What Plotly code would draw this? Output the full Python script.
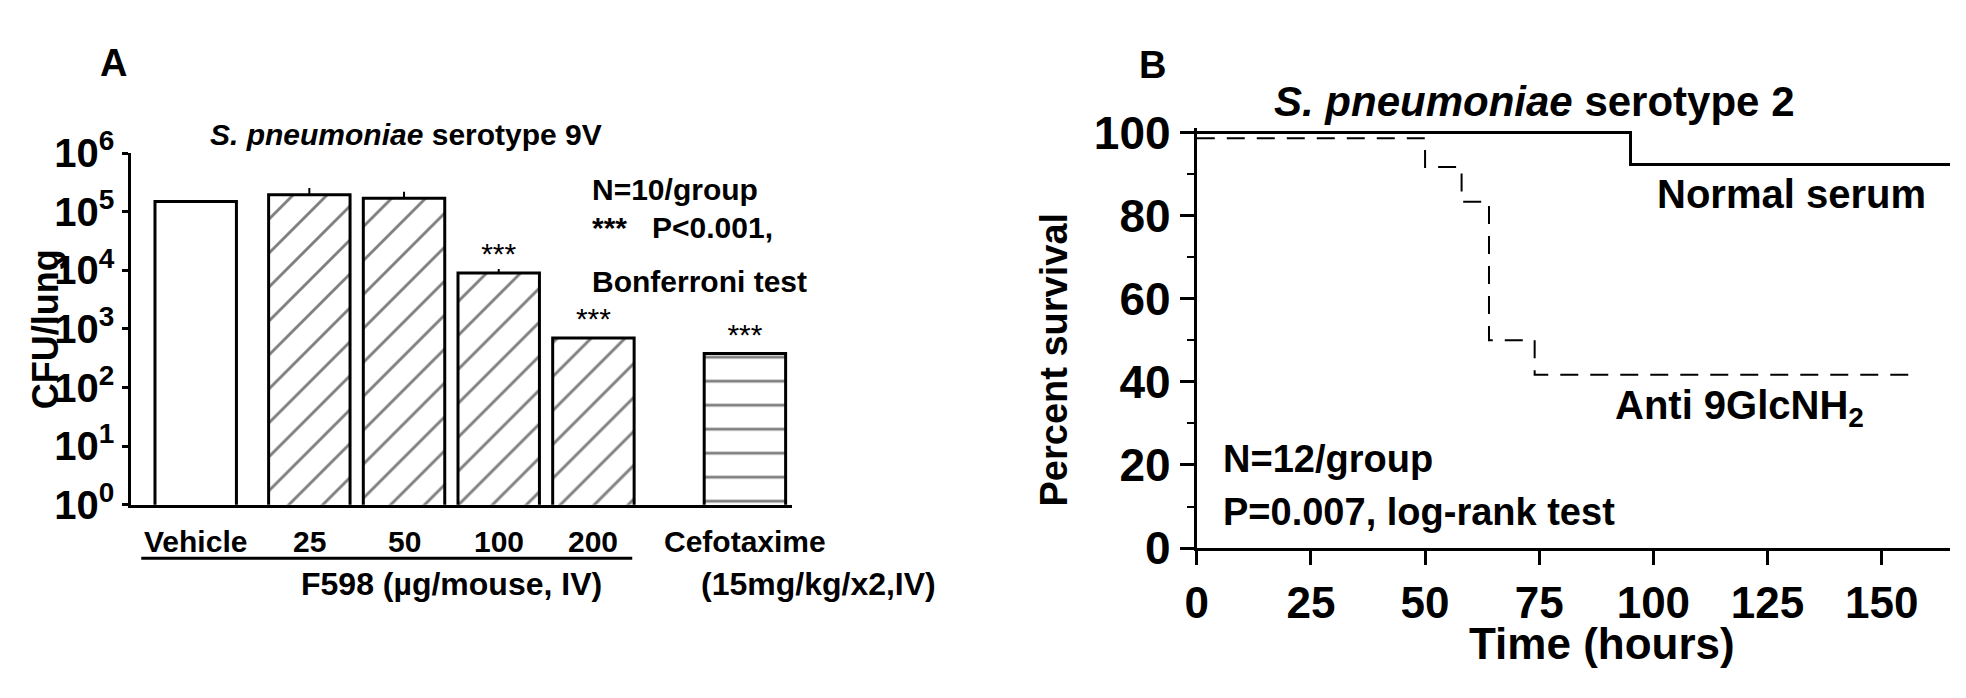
import plotly.graph_objects as go

# ---------------- data ----------------
bar_pos = [0, 1.2, 2.2, 3.2, 4.2, 5.8]
bar_labels = ["Vehicle", "25", "50", "100", "200", "Cefotaxime"]
cfu = [1.5e5, 1.95e5, 1.7e5, 9.0e3, 7.0e2, 3.8e2]
cfu_err = [0, 0.6e5, 0.5e5, 1.5e3, 0, 0]
stars = ["", "", "", "***", "***", "***"]
patterns = ["", "/", "/", "/", "/", "-"]

normal_t = [0, 95, 95, 165]
normal_s = [100, 100, 92.3, 92.3]
anti_t = [0, 50, 50, 58, 58, 64, 64, 74, 74, 158]
anti_s = [98.6, 98.6, 91.7, 91.7, 83.3, 83.3, 50, 50, 41.7, 41.7]

W, H = 1966, 698
NARROW = "Liberation Sans Narrow, Arial Narrow, Liberation Sans"
ARIAL = "Liberation Sans, Arial"


def px(x):
    return x / W


def py(y):
    return 1 - y / H


fig = go.Figure()

# ---------------- panel A ----------------
fig.add_trace(go.Bar(
    x=bar_pos, y=cfu, width=0.86,
    marker=dict(color="white", line=dict(color="black", width=3),
                pattern=dict(shape=patterns, fgcolor="black", bgcolor="white",
                             size=24, solidity=0.12)),
    error_y=dict(type="data", array=cfu_err, symmetric=False, visible=True,
                 color="black", thickness=2, width=0),
    xaxis="x", yaxis="y", showlegend=False,
))
fig.add_trace(go.Scatter(
    x=bar_pos, y=[v * 1.9 for v in cfu], text=stars, mode="text",
    textposition="middle center",
    textfont=dict(family=ARIAL, size=30, color="black"),
    xaxis="x", yaxis="y", showlegend=False,
))

# ---------------- panel B ----------------
fig.add_trace(go.Scatter(x=normal_t, y=normal_s, mode="lines",
                         line=dict(color="black", width=3),
                         xaxis="x2", yaxis="y2", showlegend=False))
fig.add_trace(go.Scatter(x=anti_t, y=anti_s, mode="lines",
                         line=dict(color="black", width=2, dash="18px,12px"),
                         xaxis="x2", yaxis="y2", showlegend=False))

axis_common = dict(showgrid=False, zeroline=False, showline=True,
                   linecolor="black", linewidth=3, ticks="outside",
                   tickcolor="black", tickwidth=3)

fig.update_layout(
    width=W, height=H, margin=dict(l=0, r=0, t=0, b=0),
    plot_bgcolor="white", paper_bgcolor="white",
    xaxis=dict(domain=[px(112), px(777)], range=[-0.68, 6.3],
               showgrid=False, zeroline=False, showline=True,
               linecolor="black", linewidth=3, showticklabels=False,
               ticks="", anchor="y"),
    yaxis=dict(domain=[py(508), py(127)], type="log", range=[0, 6],
               tickvals=[1, 10, 100, 1e3, 1e4, 1e5, 1e6],
               ticktext=[f"<b>10<sup>{i}</sup></b>" for i in range(7)],
               tickfont=dict(family=NARROW, size=40, color="black", weight="bold"),
               ticklen=6, anchor="x", **axis_common),
    xaxis2=dict(domain=[px(1184), px(1942)], range=[0, 165],
                tickvals=[0, 25, 50, 75, 100, 125, 150], ticklen=14,
                tickfont=dict(family=NARROW, size=44, color="black", weight="bold"),
                anchor="y2", **axis_common),
    yaxis2=dict(domain=[py(555), py(100)], range=[0, 101],
                tickvals=[0, 20, 40, 60, 80, 100], ticklen=14,
                minor=dict(tickvals=[10, 30, 50, 70, 90], ticks="outside",
                           ticklen=7, tickwidth=2, tickcolor="black"),
                tickfont=dict(family=NARROW, size=46, color="black", weight="bold"),
                anchor="x2", **axis_common),
)

ann = []


def note(x, y, text, size, family=NARROW, xanchor="center", **kw):
    ann.append(dict(x=px(x), y=py(y), xref="paper", yref="paper", text=text,
                    showarrow=False, xanchor=xanchor, yanchor="middle",
                    font=dict(family=family, size=size, color="black"), **kw))


# panel A texts
note(94, 29, "<b>A</b>", 38, ARIAL)
note(388, 107, "<b><i>S. pneumoniae</i> serotype 9V</b>", 30)
note(26, 318, "<b>CFU/lung</b>", 36, ARIAL, textangle=-90)
note(574, 166, "<b>N=10/group</b>", 30, xanchor="left")
note(574, 208, "<b>***   P<0.001,</b>", 30, xanchor="left")
note(574, 266, "<b>Bonferroni test</b>", 30, xanchor="left")
for xp, lab in zip(bar_pos, bar_labels):
    ann.append(dict(x=xp, y=py(548), xref="x", yref="paper",
                    text=f"<b>{lab}</b>", showarrow=False, yanchor="middle",
                    font=dict(family=NARROW, size=30, color="black")))
note(434, 594, "<b>F598 (µg/mouse, IV)</b>", 32)
note(803, 594, "<b>(15mg/kg/x2,IV)</b>", 32)

# panel B texts
note(1139, 31, "<b>B</b>", 38, ARIAL)
note(1524, 71, "<b><i>S. pneumoniae</i> serotype 2</b>", 42)
note(1040, 351, "<b>Percent survival</b>", 38, ARIAL, textangle=-90)
note(1782, 171, "<b>Normal serum</b>", 40)
note(1730, 403, "<b>Anti 9GlcNH<sub>2</sub></b>", 40)
note(1208, 458, "<b>N=12/group</b>", 38, xanchor="left")
note(1208, 516, "<b>P=0.007, log-rank test</b>", 38, xanchor="left")
note(1592, 658, "<b>Time (hours)</b>", 44)

fig.update_layout(annotations=ann, shapes=[
    dict(type="line", xref="paper", yref="paper", x0=px(122), x1=px(616),
         y0=py(566), y1=py(566), line=dict(color="black", width=3)),
])

fig.write_html("out.html")
